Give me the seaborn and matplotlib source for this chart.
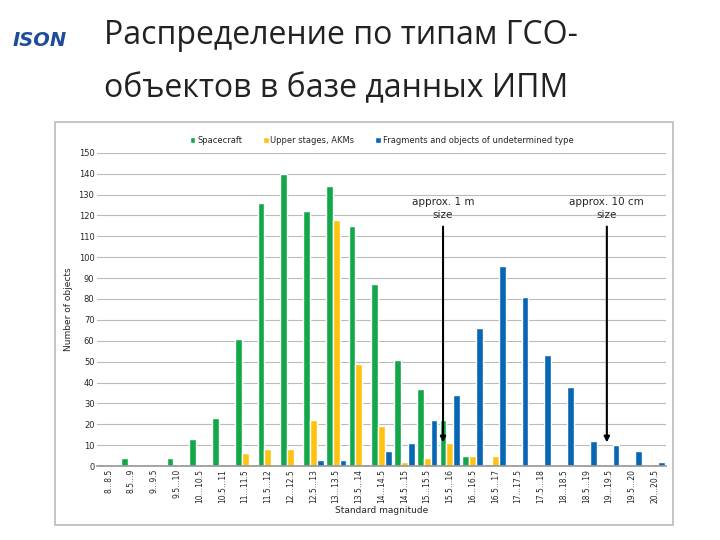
import pandas as pd
import seaborn as sns
import matplotlib.pyplot as plt
from matplotlib.patches import Rectangle

sns.set_theme(style="white")
plt.rcParams['font.family'] = ['DejaVu Sans']

# === данные ===
bins = ["8…8.5", "8.5…9", "9…9.5", "9.5…10", "10…10.5", "10.5…11", "11…11.5",
        "11.5…12", "12…12.5", "12.5…13", "13…13.5", "13.5…14", "14…14.5",
        "14.5…15", "15…15.5", "15.5…16", "16…16.5", "16.5…17", "17…17.5",
        "17.5…18", "18…18.5", "18.5…19", "19…19.5", "19.5…20", "20…20.5"]
spacecraft = [1, 4, 0, 4, 13, 23, 61, 126, 140, 122, 134, 115, 87, 51, 37, 22, 5, 1,
              0, 0, 0, 0, 0, 0, 0]
upper_stages = [0, 0, 0, 0, 0, 1, 6, 8, 8, 22, 118, 49, 19, 2, 4, 11, 5, 5,
                0, 0, 0, 0, 0, 0, 0]
fragments = [0, 0, 0, 0, 0, 0, 0, 0, 0, 3, 3, 1, 7, 11, 22, 34, 66, 96,
             81, 53, 38, 12, 10, 7, 2]
series_names = ["Spacecraft", "Upper stages, AKMs", "Fragments and objects of undetermined type"]
colors = ["#12A84A", "#FFC20E", "#0867B4"]

df = pd.DataFrame({"bin": bins * 3,
                   "type": [series_names[0]] * len(bins) + [series_names[1]] * len(bins) + [series_names[2]] * len(bins),
                   "count": spacecraft + upper_stages + fragments})

fig = plt.figure(figsize=(7.2, 5.4), dpi=100)
fig.patches.append(Rectangle((0.076, 0.028), 0.859, 0.746, transform=fig.transFigure,
                             fill=False, edgecolor="#BBBBBB", lw=1.2))

fig.text(0.145, 0.935, "Распределение по типам ГСО-", ha="left", va="center",
         fontsize=23, family="Open Sans", color="#222222")
fig.text(0.145, 0.835, "объектов в базе данных ИПМ", ha="left", va="center",
         fontsize=23, family="Open Sans", color="#222222")
fig.text(0.055, 0.925, "ISON", ha="center", va="center", fontsize=14,
         fontweight="bold", color="#1E4C9A", fontstyle="italic")

ax = fig.add_axes([0.135, 0.137, 0.79, 0.58])
sns.barplot(data=df, x="bin", y="count", hue="type", palette=colors,
            width=0.9, ax=ax, saturation=1)

ax.set_ylim(0, 150)
ax.set_yticks(range(0, 151, 10))
ax.yaxis.grid(True, color="#BBBBBB", lw=0.8)
ax.set_axisbelow(True)
ax.tick_params(axis="y", labelsize=6, length=0, pad=2)
ax.tick_params(axis="x", labelsize=5.5, rotation=90, length=0, pad=2)
ax.set_xlim(-0.5, len(bins) - 0.5)
for s in ["top", "right", "left"]:
    ax.spines[s].set_visible(False)
ax.spines["bottom"].set_color("#999999")
ax.set_xlabel("Standard magnitude", fontsize=6.5, labelpad=2)
ax.set_ylabel("Number of objects", fontsize=6.5, labelpad=4)

ax.legend(loc="lower center", bbox_to_anchor=(0.5, 1.0), ncol=3, frameon=False,
          fontsize=6, handlelength=0.7, handleheight=0.7, columnspacing=2.5,
          handletextpad=0.2)

ax.annotate("", xy=(14.7, 10), xytext=(14.7, 116),
            arrowprops=dict(arrowstyle="-|>", color="black", lw=1.5, mutation_scale=8))
ax.text(14.7, 118, "approx. 1 m\nsize", ha="center", va="bottom", fontsize=7.5,
        linespacing=1.3)
ax.annotate("", xy=(21.9, 10), xytext=(21.9, 116),
            arrowprops=dict(arrowstyle="-|>", color="black", lw=1.5, mutation_scale=8))
ax.text(21.9, 118, "approx. 10 cm\nsize", ha="center", va="bottom", fontsize=7.5,
        linespacing=1.3)

fig.savefig("out.png", dpi=100)
